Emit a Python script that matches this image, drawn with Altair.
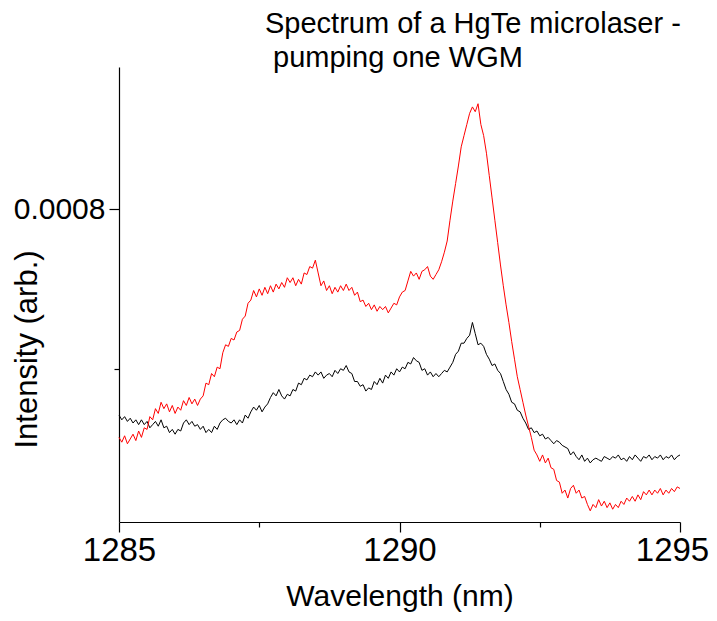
import altair as alt
import pandas as pd

# Wavelength grid (nm)
wavelength = [
    1285.00, 1285.05, 1285.10, 1285.15, 1285.20, 1285.25, 1285.30, 1285.35, 1285.40, 1285.45,
    1285.50, 1285.55, 1285.60, 1285.65, 1285.70, 1285.75, 1285.80, 1285.85, 1285.90, 1285.95,
    1286.00, 1286.05, 1286.10, 1286.15, 1286.20, 1286.25, 1286.30, 1286.35, 1286.40, 1286.45,
    1286.50, 1286.55, 1286.60, 1286.65, 1286.70, 1286.75, 1286.80, 1286.85, 1286.90, 1286.95,
    1287.00, 1287.05, 1287.10, 1287.15, 1287.20, 1287.25, 1287.30, 1287.35, 1287.40, 1287.45,
    1287.50, 1287.55, 1287.60, 1287.65, 1287.70, 1287.75, 1287.80, 1287.85, 1287.90, 1287.95,
    1288.00, 1288.05, 1288.10, 1288.15, 1288.20, 1288.25, 1288.30, 1288.35, 1288.40, 1288.45,
    1288.50, 1288.55, 1288.60, 1288.65, 1288.70, 1288.75, 1288.80, 1288.85, 1288.90, 1288.95,
    1289.00, 1289.05, 1289.10, 1289.15, 1289.20, 1289.25, 1289.30, 1289.35, 1289.40, 1289.45,
    1289.50, 1289.55, 1289.60, 1289.65, 1289.70, 1289.75, 1289.80, 1289.85, 1289.90, 1289.95,
    1290.00, 1290.05, 1290.10, 1290.15, 1290.20, 1290.25, 1290.30, 1290.35, 1290.40, 1290.45,
    1290.50, 1290.55, 1290.60, 1290.65, 1290.70, 1290.75, 1290.80, 1290.85, 1290.90, 1290.95,
    1291.00, 1291.05, 1291.10, 1291.15, 1291.20, 1291.25, 1291.30, 1291.35, 1291.40, 1291.45,
    1291.50, 1291.55, 1291.60, 1291.65, 1291.70, 1291.75, 1291.80, 1291.85, 1291.90, 1291.95,
    1292.00, 1292.05, 1292.10, 1292.15, 1292.20, 1292.25, 1292.30, 1292.35, 1292.40, 1292.45,
    1292.50, 1292.55, 1292.60, 1292.65, 1292.70, 1292.75, 1292.80, 1292.85, 1292.90, 1292.95,
    1293.00, 1293.05, 1293.10, 1293.15, 1293.20, 1293.25, 1293.30, 1293.35, 1293.40, 1293.45,
    1293.50, 1293.55, 1293.60, 1293.65, 1293.70, 1293.75, 1293.80, 1293.85, 1293.90, 1293.95,
    1294.00, 1294.05, 1294.10, 1294.15, 1294.20, 1294.25, 1294.30, 1294.35, 1294.40, 1294.45,
    1294.50, 1294.55, 1294.60, 1294.65, 1294.70, 1294.75, 1294.80, 1294.85, 1294.90, 1294.95,
    1295.00,
]

# Intensities in units of 1e-4 (arb.)
red_e4 = [
    6.57, 6.54, 6.58, 6.53, 6.56, 6.59, 6.55, 6.61, 6.57, 6.63, 6.62, 6.70, 6.68, 6.75, 6.72, 6.79, 6.75, 6.78, 6.73, 6.77,
    6.72, 6.76, 6.74, 6.80, 6.77, 6.82, 6.78, 6.81, 6.77, 6.81, 6.83, 6.91, 6.90, 6.97, 6.95, 7.01, 7.00, 7.10, 7.15, 7.14,
    7.19, 7.18, 7.23, 7.24, 7.31, 7.33, 7.41, 7.43, 7.49, 7.45, 7.50, 7.46, 7.51, 7.47, 7.52, 7.48, 7.53, 7.50, 7.54, 7.51,
    7.57, 7.54, 7.57, 7.52, 7.56, 7.53, 7.60, 7.59, 7.64, 7.63, 7.68, 7.60, 7.52, 7.55, 7.49, 7.52, 7.47, 7.51, 7.48, 7.52,
    7.49, 7.53, 7.49, 7.51, 7.46, 7.48, 7.42, 7.43, 7.39, 7.41, 7.37, 7.40, 7.36, 7.39, 7.37, 7.39, 7.35, 7.38, 7.41, 7.40,
    7.45, 7.48, 7.49, 7.55, 7.61, 7.58, 7.60, 7.56, 7.61, 7.62, 7.64, 7.58, 7.56, 7.59, 7.62, 7.67, 7.73, 7.80, 7.93, 8.05,
    8.16, 8.27, 8.39, 8.46, 8.53, 8.60, 8.64, 8.61, 8.66, 8.53, 8.46, 8.35, 8.21, 8.07, 7.93, 7.79, 7.65, 7.52, 7.40, 7.29,
    7.17, 7.06, 6.95, 6.87, 6.79, 6.71, 6.64, 6.57, 6.49, 6.46, 6.42, 6.46, 6.41, 6.44, 6.38, 6.37, 6.30, 6.29, 6.22, 6.24,
    6.19, 6.25, 6.27, 6.22, 6.24, 6.19, 6.20, 6.15, 6.11, 6.15, 6.13, 6.18, 6.14, 6.17, 6.13, 6.16, 6.12, 6.15, 6.13, 6.17,
    6.15, 6.19, 6.17, 6.20, 6.17, 6.21, 6.18, 6.23, 6.21, 6.24, 6.21, 6.24, 6.22, 6.25, 6.21, 6.24, 6.22, 6.25, 6.23, 6.26,
    6.25,
]

black_e4 = [
    6.71, 6.68, 6.70, 6.67, 6.69, 6.66, 6.68, 6.65, 6.68, 6.65, 6.67, 6.63, 6.65, 6.67, 6.64, 6.68, 6.63, 6.64, 6.60, 6.62,
    6.59, 6.62, 6.61, 6.66, 6.68, 6.65, 6.67, 6.64, 6.65, 6.62, 6.64, 6.60, 6.62, 6.60, 6.64, 6.62, 6.66, 6.68, 6.69, 6.67,
    6.66, 6.68, 6.65, 6.68, 6.66, 6.71, 6.69, 6.73, 6.76, 6.74, 6.77, 6.73, 6.76, 6.78, 6.82, 6.85, 6.83, 6.87, 6.83, 6.81,
    6.84, 6.83, 6.87, 6.86, 6.91, 6.90, 6.94, 6.93, 6.96, 6.95, 6.98, 6.96, 6.98, 6.94, 6.96, 6.97, 6.95, 6.99, 6.97, 7.00,
    6.99, 7.02, 6.98, 6.97, 6.92, 6.92, 6.89, 6.90, 6.86, 6.88, 6.87, 6.92, 6.90, 6.94, 6.91, 6.96, 6.94, 6.98, 6.96, 7.00,
    6.98, 7.01, 7.00, 7.04, 7.03, 7.07, 7.05, 7.04, 6.99, 7.00, 6.96, 6.98, 6.95, 6.97, 6.95, 6.97, 6.99, 6.98, 7.01, 7.04,
    7.09, 7.11, 7.16, 7.16, 7.19, 7.21, 7.29, 7.22, 7.15, 7.16, 7.14, 7.09, 7.06, 7.02, 7.03, 6.99, 6.97, 6.92, 6.87, 6.84,
    6.79, 6.78, 6.74, 6.73, 6.69, 6.66, 6.62, 6.63, 6.60, 6.61, 6.58, 6.59, 6.56, 6.57, 6.55, 6.53, 6.55, 6.54, 6.52, 6.51,
    6.50, 6.46, 6.48, 6.45, 6.43, 6.46, 6.42, 6.44, 6.41, 6.43, 6.44, 6.43, 6.42, 6.45, 6.44, 6.43, 6.45, 6.44, 6.46, 6.43,
    6.44, 6.42, 6.45, 6.43, 6.46, 6.44, 6.42, 6.45, 6.44, 6.46, 6.43, 6.45, 6.44, 6.46, 6.43, 6.45, 6.44, 6.46, 6.43, 6.45,
    6.46,
]

x_ticks = [1285, 1287.5, 1290, 1292.5, 1295]
y_ticks = [0.0007, 0.0008]
title_lines = ["Spectrum of a HgTe microlaser -", "\u200b\u00a0pumping one WGM"]

FONT = "Liberation Sans"

df_red = pd.DataFrame({"wl": wavelength, "I": [v * 1e-4 for v in red_e4]})
df_black = pd.DataFrame({"wl": wavelength, "I": [v * 1e-4 for v in black_e4]})

x_enc = alt.X(
    "wl:Q",
    scale=alt.Scale(domain=[1285, 1295], nice=False, zero=False),
    axis=alt.Axis(
        title="Wavelength (nm)",
        values=x_ticks,
        format="d",
        labelExpr="datum.value % 5 == 0 ? datum.label : ''",
        tickSize={"condition": {"test": "datum.value % 5 == 0", "value": 10}, "value": 5},
        labelOffset={"condition": {"test": "datum.value >= 1295", "value": -8}, "value": 0},
        grid=False,
        labelFlush=False,
        labelFontSize=33,
        titleFontSize=30,
        titlePadding=14,
        labelPadding=2,
    ),
)
y_enc = alt.Y(
    "I:Q",
    scale=alt.Scale(domain=[0.000604, 0.000889], nice=False, zero=False),
    axis=alt.Axis(
        title="Intensity (arb.)",
        values=y_ticks,
        labelExpr="datum.value > 0.00075 ? '0.0008' : ''",
        tickSize={"condition": {"test": "datum.value > 0.00075", "value": 10}, "value": 5},
        grid=False,
        labelFontSize=30,
        titleFontSize=31,
        labelPadding=4,
        titleX=-76,
        titleY=282,
    ),
)

black = alt.Chart(df_black).mark_line(color="black", strokeWidth=1).encode(x=x_enc, y=y_enc)
red = alt.Chart(df_red).mark_line(color="red", strokeWidth=1).encode(x=x_enc, y=y_enc)

chart = (
    alt.layer(black, red)
    .properties(
        width=561,
        height=455,
        autosize=alt.AutoSizeParams(type="none"),
        padding={"left": 111, "top": 59, "right": 29, "bottom": 91},
        title=alt.TitleParams(
            text=title_lines,
            anchor="start",
            frame="group",
            dx=146,
            dy=10,
            offset=4,
            font=FONT,
            fontSize=29,
            fontWeight="normal",
            color="black",
            lineHeight=34,
        ),
    )
    .configure_view(stroke=None)
    .configure_axis(
        domainColor="black",
        domainWidth=1.2,
        tickColor="black",
        tickWidth=1.2,
        labelFont=FONT,
        labelColor="black",
        titleFont=FONT,
        titleFontWeight="normal",
        titleColor="black",
    )
)

chart.save("out.html", embed_options={"renderer": "svg", "actions": False})
